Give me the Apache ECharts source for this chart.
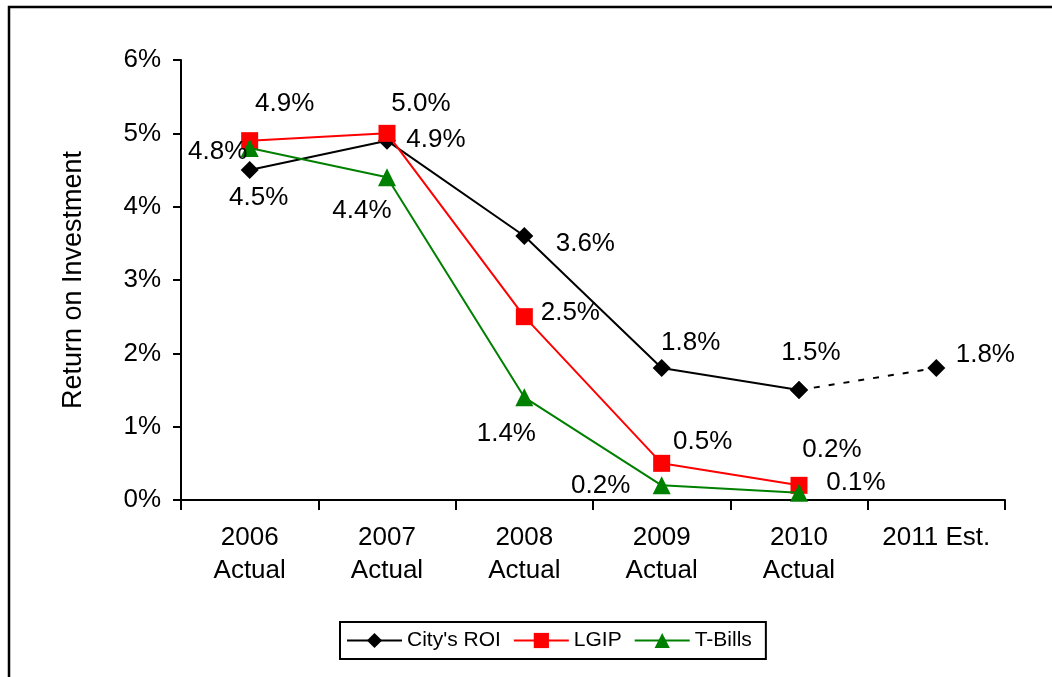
<!DOCTYPE html>
<html>
<head>
<meta charset="utf-8">
<script src="https://cdn.jsdelivr.net/npm/echarts@6/dist/echarts.min.js"></script>
<style>
  html, body { margin: 0; padding: 0; background: #fff; }
  #chart { width: 1052px; height: 677px; }
</style>
</head>
<body>
<div id="chart"></div>
<script>
// Return on investment by year (percent)
const categories = ['2006\nActual', '2007\nActual', '2008\nActual', '2009\nActual', '2010\nActual', '2011 Est.'];
const cityRoi = [4.5, 4.9, 3.6, 1.8, 1.5, null];
const cityRoiEstimate = [null, null, null, null, 1.5, 1.8];
const lgip = [4.9, 5.0, 2.5, 0.5, 0.2, null];
const tBills = [4.8, 4.4, 1.4, 0.2, 0.1, null];
const yTicks = { min: 0, max: 6, interval: 1 };

// Label offsets from each marker's centre, in pixels
const cityOffsets = [[9, 28], [49, -1], [61, 8], [29, -25], [12, -37], [49, -13]];
const lgipOffsets = [[35, -37], [34, -30], [46, -4], [41, -22], [33, -36]];
const tBillOffsets = [[-32, 4], [-25, 33], [-18, 36], [-61, 0], [57, -10]];

const FONT = 'Liberation Sans, Arial, sans-serif';
const labelStyle = { color: '#000', fontSize: 26, fontFamily: FONT };

function withLabels(values, offsets, showFrom) {
  return values.map((v, i) => {
    if (v === null) return null;
    const item = { value: v };
    if (i >= (showFrom || 0) && offsets[i]) {
      item.label = Object.assign({
        show: true,
        position: 'inside',
        offset: offsets[i],
        formatter: p => p.value.toFixed(1) + '%'
      }, labelStyle);
    } else {
      item.label = { show: false };
    }
    return item;
  });
}

const chart = echarts.init(document.getElementById('chart'), null, { renderer: 'canvas' });

chart.setOption({
  animation: false,
  backgroundColor: '#fff',
  graphic: [{
    type: 'rect',
    shape: { x: 9, y: 7, width: 1100, height: 720 },
    style: { fill: 'none', stroke: '#000', lineWidth: 2.5 },
    silent: true,
    z: 0
  }],
  grid: { left: 181, right: 47, top: 60, bottom: 177 },
  legend: {
    data: ["City's ROI", 'LGIP', 'T-Bills'],
    top: 622,
    left: 340,
    itemWidth: 55,
    itemHeight: 19,
    itemGap: 12,
    padding: [8, 14, 8, 6],
    borderColor: '#000',
    borderWidth: 2,
    textStyle: { color: '#000', fontSize: 21, fontFamily: FONT }
  },
  xAxis: {
    type: 'category',
    data: categories,
    boundaryGap: true,
    axisLine: { lineStyle: { color: '#000', width: 2 } },
    axisTick: { show: true, length: 10, interval: 0, lineStyle: { color: '#000', width: 2 } },
    axisLabel: { color: '#000', fontSize: 26, fontFamily: FONT, lineHeight: 33, margin: 21, interval: 0 }
  },
  yAxis: {
    type: 'value',
    min: yTicks.min,
    max: yTicks.max,
    interval: yTicks.interval,
    name: 'Return on Investment',
    nameLocation: 'middle',
    nameGap: 94,
    nameTextStyle: { color: '#000', fontSize: 27, fontFamily: FONT },
    axisLine: { show: true, lineStyle: { color: '#000', width: 2 } },
    axisTick: { show: true, length: 8, lineStyle: { color: '#000', width: 2 } },
    splitLine: { show: false },
    axisLabel: { color: '#000', fontSize: 26, fontFamily: FONT, margin: 20, formatter: '{value}%' }
  },
  series: [
    {
      name: 'LGIP',
      type: 'line',
      data: withLabels(lgip, lgipOffsets),
      symbol: 'rect',
      symbolSize: 17,
      itemStyle: { color: '#ff0000' },
      lineStyle: { color: '#ff0000', width: 2 },
      z: 3
    },
    {
      name: 'T-Bills',
      type: 'line',
      data: withLabels(tBills, tBillOffsets),
      symbol: 'triangle',
      symbolSize: 18,
      itemStyle: { color: '#008000' },
      lineStyle: { color: '#008000', width: 2 },
      z: 4
    },
    {
      name: "City's ROI",
      type: 'line',
      data: withLabels(cityRoi, cityOffsets),
      symbol: 'diamond',
      symbolSize: 18,
      itemStyle: { color: '#000' },
      lineStyle: { color: '#000', width: 2 },
      z: 2
    },
    {
      name: "City's ROI estimate",
      type: 'line',
      data: withLabels(cityRoiEstimate, cityOffsets, 5),
      symbol: 'diamond',
      symbolSize: 18,
      itemStyle: { color: '#000' },
      lineStyle: { color: '#000', width: 2, type: [6, 9] },
      z: 2
    }
  ]
});
</script>
</body>
</html>
